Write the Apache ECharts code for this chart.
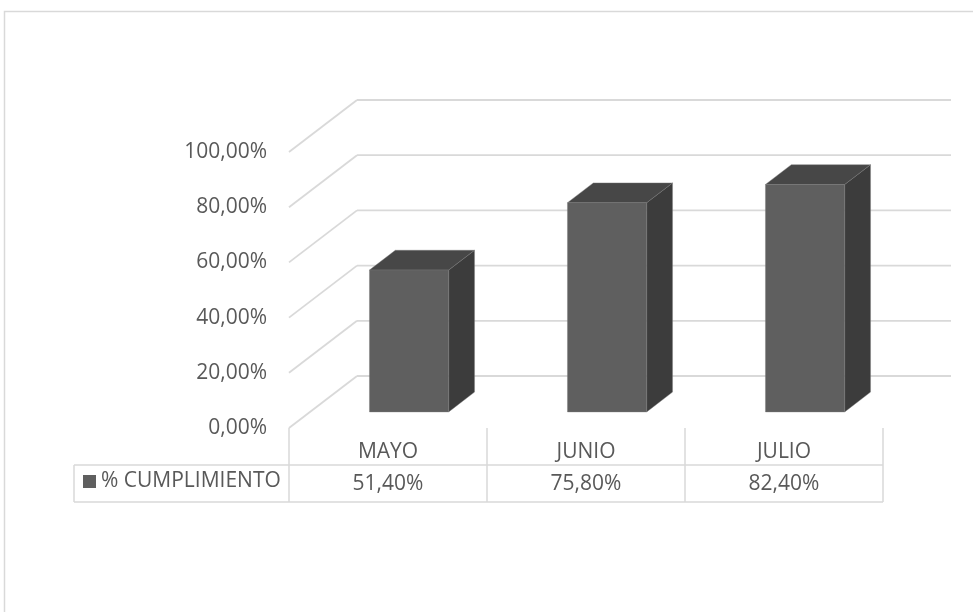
<!DOCTYPE html>
<html>
<head>
<meta charset="utf-8">
<script src="https://cdn.jsdelivr.net/npm/echarts@6/dist/echarts.min.js"></script>
<style>html,body{margin:0;padding:0;background:#fff;}#c{width:973px;height:612px;}</style>
</head>
<body>
<div id="c"></div>
<script>
const categories = ['MAYO', 'JUNIO', 'JULIO'];
const values = [0.514, 0.758, 0.824];
const yTicks = [0, 0.2, 0.4, 0.6, 0.8, 1.0];
const seriesName = '% CUMPLIMIENTO';

const FONT = 'Open Sans';
const FS = 21;
const TXT = '#595959';
const GRID = '#d9d9d9';
const DX = 68, DY = -52;          // depth of the 3D box (front -> back wall)
const D1 = 0.31, D2 = 0.69;       // bar depth range
const ROW1 = 37, ROW2 = 74;       // table rows below the floor front edge
const TABLE_LEFT = 74;

function fmt(v) { return (v * 100).toFixed(2).replace('.', ',') + '%'; }

const chart = echarts.init(document.getElementById('c'), null, {renderer: 'canvas'});

const option = {
  animation: false,
  backgroundColor: '#fff',
  grid: {left: 289, right: 90, top: 152, bottom: 184},
  xAxis: {
    type: 'category', data: categories,
    axisLine: {show: false}, axisTick: {show: false}, splitLine: {show: false},
    axisLabel: {margin: 24, verticalAlign: 'middle', color: TXT, fontSize: FS, fontFamily: FONT}
  },
  yAxis: {
    type: 'value', min: 0, max: 1, interval: 0.2,
    axisLine: {show: false}, axisTick: {show: false}, splitLine: {show: false},
    axisLabel: {margin: 22, color: TXT, fontSize: FS, fontFamily: FONT, formatter: fmt, padding: [5, 0, 0, 0]}
  },
  legend: {
    data: [seriesName], left: 83, top: 471, padding: 0,
    icon: 'rect', itemWidth: 13, itemHeight: 13, itemGap: 5,
    textStyle: {color: TXT, fontSize: FS, fontFamily: FONT},
    selectedMode: false
  },
  graphic: [{
    type: 'rect', silent: true, z: -10,
    shape: {x: 4.5, y: 11.5, width: 1100, height: 800},
    style: {fill: 'none', stroke: GRID, lineWidth: 1.5}
  }],
  series: [
    {
      type: 'custom', name: 'grid', silent: true, z: 1,
      data: yTicks.map(v => [0, v]),
      encode: {x: 0, y: 1},
      renderItem: function (params, api) {
        const cs = params.coordSys;
        const y = api.coord([0, api.value(1)])[1];
        const xl = cs.x, xr = cs.x + cs.width;
        return {
          type: 'group', children: [
            {type: 'line', shape: {x1: xl, y1: y, x2: xl + DX, y2: y + DY}, style: {stroke: GRID, lineWidth: 1.8}},
            {type: 'line', shape: {x1: xl + DX, y1: y + DY, x2: xr + DX, y2: y + DY}, style: {stroke: GRID, lineWidth: 1.8}}
          ]
        };
      }
    },
    {
      type: 'custom', name: 'table', silent: true, z: 1,
      data: categories.map((c, i) => [i, 0]),
      encode: {x: 0, y: 1},
      renderItem: function (params, api) {
        const cs = params.coordSys;
        const i = api.value(0);
        const c = api.coord([i, 0]);
        const band = api.size([1, 0])[0];
        const y0 = c[1];
        const xl = c[0] - band / 2, xr = c[0] + band / 2;
        const st = {stroke: GRID, lineWidth: 1.5};
        const ch = [
          {type: 'line', shape: {x1: xr, y1: y0, x2: xr, y2: y0 + ROW2}, style: st},
          {type: 'text', style: {x: c[0], y: y0 + (ROW1 + ROW2) / 2 + 1, text: fmt(values[i]), align: 'center', verticalAlign: 'middle', fill: TXT, fontSize: FS, fontFamily: FONT}}
        ];
        if (i === 0) {
          ch.push({type: 'line', shape: {x1: xl, y1: y0, x2: xl, y2: y0 + ROW2}, style: st});
          ch.push({type: 'line', shape: {x1: TABLE_LEFT, y1: y0 + ROW1, x2: TABLE_LEFT, y2: y0 + ROW2}, style: st});
          ch.push({type: 'line', shape: {x1: TABLE_LEFT, y1: y0 + ROW1, x2: cs.x + cs.width, y2: y0 + ROW1}, style: st});
          ch.push({type: 'line', shape: {x1: TABLE_LEFT, y1: y0 + ROW2, x2: cs.x + cs.width, y2: y0 + ROW2}, style: st});
        }
        return {type: 'group', children: ch};
      }
    },
    {
      type: 'custom', name: seriesName, z: 5,
      itemStyle: {color: '#5f5f5f'},
      data: values.map((v, i) => [i, v]),
      encode: {x: 0, y: 1},
      renderItem: function (params, api) {
        const i = api.value(0), v = api.value(1);
        const top = api.coord([i, v]);
        const bot = api.coord([i, 0]);
        const band = api.size([1, 0])[0];
        const hw = band * 0.2;
        const ox = DX * D1, oy = DY * D1;
        const dx = DX * (D2 - D1), dy = DY * (D2 - D1);
        const x0 = top[0] - hw + ox, x1 = top[0] + hw + ox;
        const yt = top[1] + oy, yb = bot[1] + oy;
        const edge = {stroke: 'rgba(120,120,120,0.6)', lineWidth: 0.7};
        return {
          type: 'group', children: [
            {type: 'polygon', shape: {points: [[x1, yt], [x1 + dx, yt + dy], [x1 + dx, yb + dy], [x1, yb]]}, style: Object.assign({fill: '#3c3c3c'}, edge)},
            {type: 'polygon', shape: {points: [[x0, yt], [x1, yt], [x1 + dx, yt + dy], [x0 + dx, yt + dy]]}, style: Object.assign({fill: '#474747'}, edge)},
            {type: 'rect', shape: {x: x0, y: yt, width: x1 - x0, height: yb - yt}, style: Object.assign({fill: '#5f5f5f'}, edge)}
          ]
        };
      }
    }
  ]
};
chart.setOption(option);
</script>
</body>
</html>
